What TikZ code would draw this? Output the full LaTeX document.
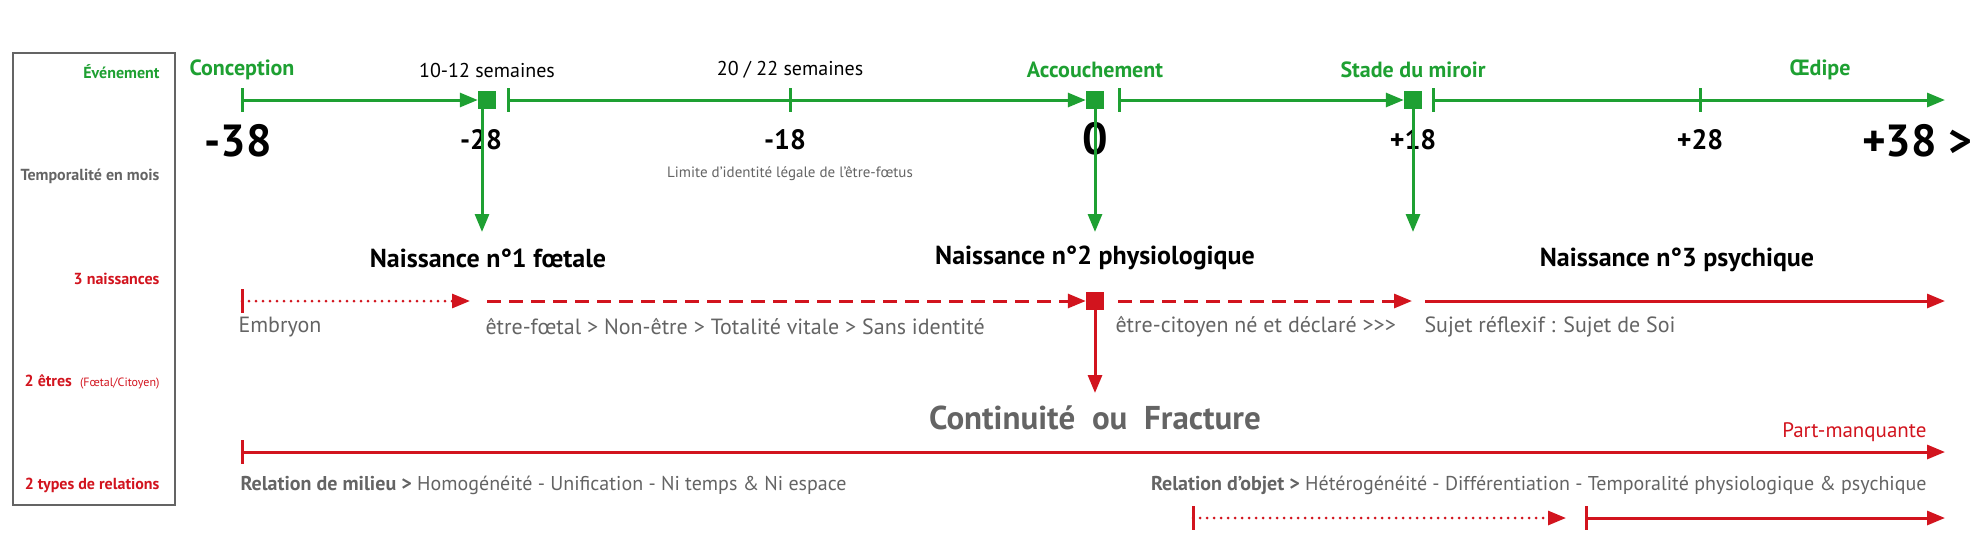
\documentclass[tikz,border=0pt]{standalone}
\usepackage{fontspec}
\setmainfont{PT Sans}
\usetikzlibrary{arrows.meta}
\definecolor{gr}{RGB}{30,160,50}
\definecolor{rd}{RGB}{210,20,30}
\definecolor{gy}{RGB}{100,100,100}
\begin{document}
\begin{tikzpicture}[x=1pt,y=-1pt,
  gline/.style={gr,line width=3pt,-{Triangle[length=18pt,width=14pt]}},
  rline/.style={rd,line width=3pt,-{Triangle[length=18pt,width=14pt]}},
  rowlab/.style={anchor=east,font=\bfseries\fontsize{16}{18}\selectfont},
  ev/.style={font=\bfseries\fontsize{22}{25}\selectfont,text=gr},
  evk/.style={font=\fontsize{20}{23}\selectfont},
  num/.style={font=\bfseries\fontsize{28}{32}\selectfont},
  bignum/.style={font=\bfseries\fontsize{45}{50}\selectfont},
  nai/.style={font=\bfseries\fontsize{26}{30}\selectfont},
  gt/.style={text=gy,font=\fontsize{22}{25}\selectfont,anchor=west},
  rt/.style={text=gy,font=\fontsize{20}{23}\selectfont,anchor=west},
  sq/.style={minimum size=18pt,inner sep=0pt},
  tick/.style={line width=3pt}]
\useasboundingbox (0,0) rectangle (1980,558);
\draw[gy,line width=2.5pt] (13,53) rectangle (175,505);
\node[rowlab,text=gr] (l1) at (163,72) {Événement};
\node[rowlab,text=gy] (l2) at (163,176) {Temporalité en mois};
\node[rowlab,text=rd] (l3) at (163,279) {3 naissances};
\node[rowlab,text=rd] (l4) at (163,382) {2 êtres \ {\mdseries\fontsize{12}{14}\selectfont(Fœtal/Citoyen)}};
\node[rowlab,text=rd] (l5) at (163,485) {2 types de relations};
% green timeline
\coordinate (g0) at (242,100);
\node[sq,fill=gr] (s1) at (487,100) {};
\coordinate (g1) at (508,100);
\node[sq,fill=gr] (s2) at (1095,100) {};
\coordinate (g2) at (1119,100);
\node[sq,fill=gr] (s3) at (1413,100) {};
\coordinate (g3) at (1433,100);
\coordinate (gend) at (1945,100);
\draw[gr,tick] (242,88)--(242,112) (508,88)--(508,112) (1119,88)--(1119,112) (1433,88)--(1433,112);
\draw[gr,tick] (790,88)--(790,112) (1700,88)--(1700,112);
\draw[gline] (g0)--(s1.west);
\draw[gline] (g1)--(s2.west);
\draw[gline] (g2)--(s3.west);
\draw[gline] (g3)--(gend);
\node[ev] (e1) at (242,70) {Conception};
\node[evk] (e2) at (487,70) {10-12 semaines};
\node[evk] (e3) at (790,70) {20 / 22 semaines};
\node[ev] (e4) at (1095,70) {Accouchement};
\node[ev] (e5) at (1413,70) {Stade du miroir};
\node[ev] (e6) at (1820,70) {Œdipe};
\node[bignum] (n1) at (238,141) {-38};
\node[num] (n2) at (481,140) {-28};
\node[num] (n3) at (785,140) {-18};
\node[bignum] (n4) at (1095,139) {0};
\node[num] (n5) at (1413,140) {+18};
\node[num] (n6) at (1700,140) {+28};
\node[bignum] (n7) at (1917,141) {+38 >};
\node[font=\fontsize{15}{17}\selectfont,text=gy] (lim) at (790,174) {Limite d’identité légale de l’être-fœtus};
\coordinate (d1) at (482,232);
\coordinate (d2) at (1095,232);
\coordinate (d3) at (1413,232);
\draw[gline] (482,109)--(d1);
\draw[gline] (s2.south)--(d2);
\draw[gline] (s3.south)--(d3);
\node[nai] (b1) at (488,258) {Naissance n°1 fœtale};
\node[nai] (b2) at (1095,258) {Naissance n°2 physiologique};
\node[nai] (b3) at (1677,260) {Naissance n°3 psychique};
% red row
\coordinate (r0) at (242,301);
\coordinate (r1) at (470,301);
\coordinate (r1b) at (487,301);
\node[sq,fill=rd] (rs) at (1095,301) {};
\coordinate (r2) at (1118,301);
\coordinate (r2e) at (1412,301);
\coordinate (r3) at (1425,301);
\coordinate (rend) at (1945,301);
\draw[rd,tick] (242,289)--(242,313);
\draw[rline,dash pattern=on 0pt off 7pt,line cap=round] (r0)--(r1);
\draw[rline,dash pattern=on 14pt off 8pt] (r1b)--(rs.west);
\draw[rline,dash pattern=on 14pt off 8pt] (r2)--(r2e);
\draw[rline] (r3)--(rend);
\node[gt] (t1) at (235,327) {Embryon};
\node[gt] (t2) at (482,327) {être-fœtal > Non-être > Totalité vitale > Sans identité};
\node[gt] (t3) at (1112,327) {être-citoyen né et déclaré >{}>{}>};
\node[gt] (t4) at (1421,327) {Sujet réflexif : Sujet de Soi};
\coordinate (rd2) at (1095,393);
\draw[rline] (rs.south)--(rd2);
\node[text=gy,font=\bfseries\fontsize{33}{38}\selectfont] (cf) at (1095,418) {Continuité \ ou \ Fracture};
\coordinate (p0) at (242,452);
\coordinate (pend) at (1945,452);
\draw[rd,tick] (242,440)--(242,464);
\draw[rline] (p0)--(pend);
\node[anchor=east,text=rd,font=\fontsize{21}{24}\selectfont] (pm) at (1930,432) {Part-manquante};
\node[rt] (rm) at (237,485) {\textbf{Relation de milieu >} Homogénéité - Unification - Ni temps \& Ni espace};
\node[rt,anchor=east] (ro) at (1930,485) {\textbf{Relation d’objet >} Hétérogénéité - Différentiation - Temporalité physiologique \& psychique};
\coordinate (q0) at (1193,518);
\coordinate (q1) at (1566,518);
\coordinate (q2) at (1586,518);
\coordinate (qend) at (1945,518);
\draw[rd,tick] (1193,506)--(1193,530) (1586,506)--(1586,530);
\draw[rline,dash pattern=on 0pt off 7pt,line cap=round] (q0)--(q1);
\draw[rline] (q2)--(qend);
\end{tikzpicture}
\end{document}
